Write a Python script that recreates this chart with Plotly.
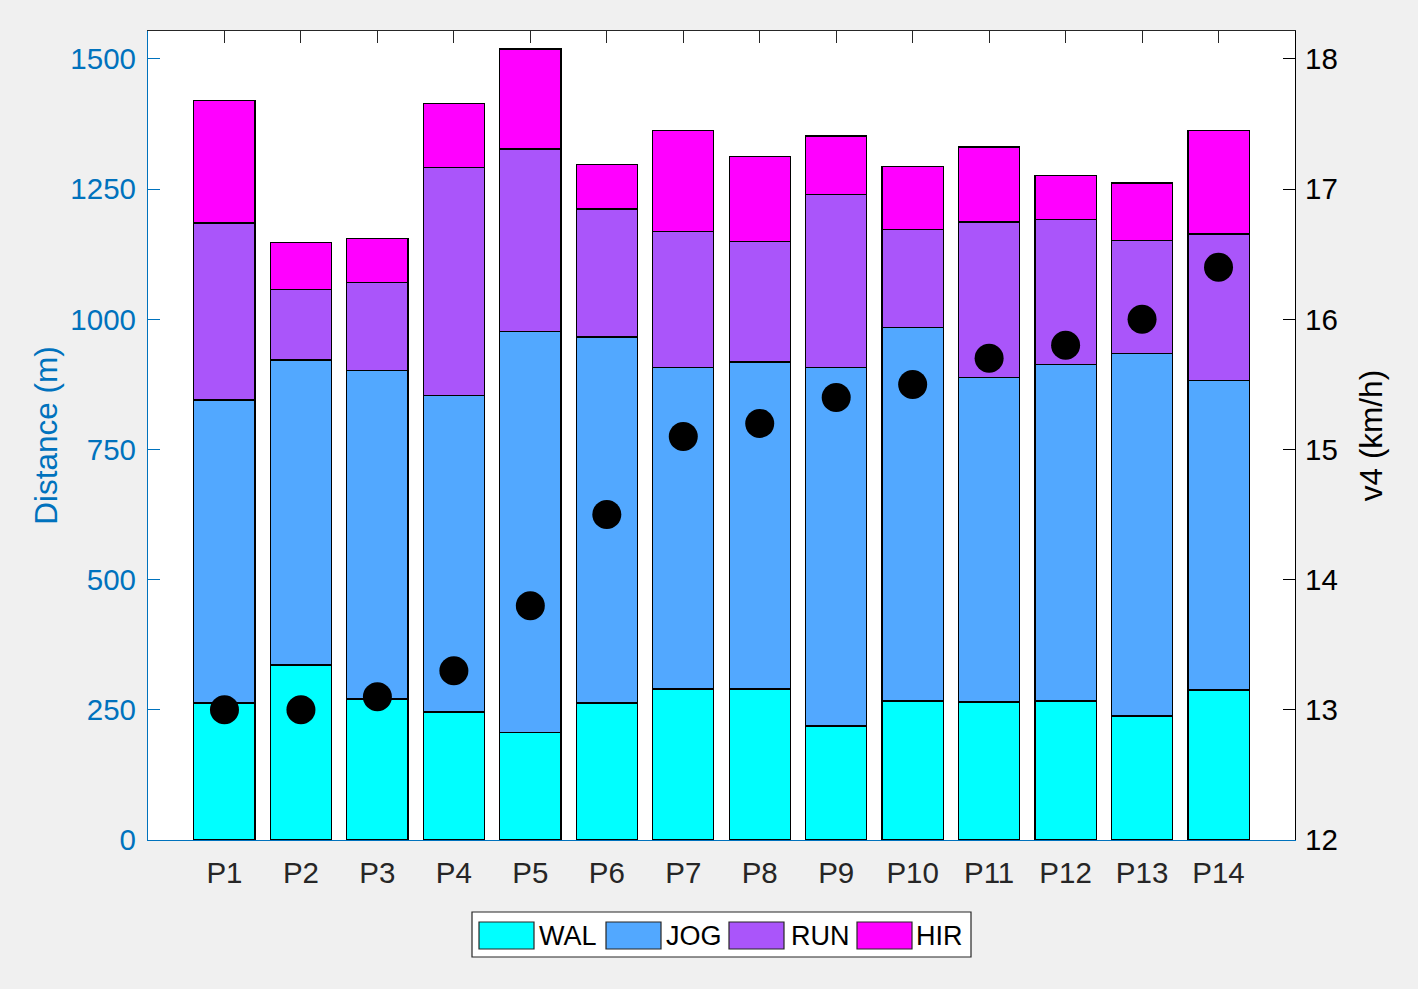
import plotly.graph_objects as go

categories = ["P1", "P2", "P3", "P4", "P5", "P6", "P7", "P8", "P9", "P10", "P11", "P12", "P13", "P14"]
wal = [263, 336, 271, 246, 207, 263, 290, 290, 219, 267, 265, 267, 238, 288]
jog = [582, 586, 630, 607, 769, 703, 618, 628, 689, 718, 624, 647, 697, 594]
run = [340, 136, 169, 438, 351, 246, 260, 232, 331, 188, 298, 277, 217, 282]
hir = [236, 89, 86, 124, 192, 86, 194, 162, 113, 120, 144, 86, 110, 198]
v4 = [13.0, 13.0, 13.1, 13.3, 13.8, 14.5, 15.1, 15.2, 15.4, 15.5, 15.7, 15.8, 16.0, 16.4]

series_names = ["WAL", "JOG", "RUN", "HIR"]
series_values = [wal, jog, run, hir]
series_colors = ["#00FFFF", "#52A8FF", "#AA55FA", "#FF00FF"]

xpos = list(range(1, len(categories) + 1))
FONT = "Liberation Sans, Arial, Helvetica, sans-serif"
BLUE = "#0072BD"
DARK = "#262626"

W, H = 1418, 989
L, R, T, B = 148, 123, 31, 149
PW, PH = W - L - R, H - T - B


def px_x(p):
    return (p - L) / PW


def px_y(p):
    return (H - B - p) / PH


fig = go.Figure()
for name, vals, col in zip(series_names, series_values, series_colors):
    fig.add_trace(go.Bar(
        x=xpos, y=vals, name=name, width=0.8,
        marker=dict(color=col, line=dict(color="black", width=1.2)),
        xaxis="x", yaxis="y", showlegend=False,
    ))

fig.add_trace(go.Scatter(
    x=xpos, y=v4, mode="markers", name="v4",
    marker=dict(color="black", size=29),
    xaxis="x", yaxis="y2", showlegend=False,
))

# invisible trace to activate top axis
fig.add_trace(go.Scatter(
    x=[xpos[0]], y=[0], mode="markers", marker=dict(opacity=0),
    xaxis="x2", yaxis="y", showlegend=False, hoverinfo="skip",
))

# custom legend (MATLAB style)
legend_items = [(479, 540), (606, 667), (729, 792), (857, 917)]
shapes = [dict(type="rect", xref="paper", yref="paper",
               x0=px_x(472), x1=px_x(971), y0=px_y(957), y1=px_y(912),
               fillcolor="white", line=dict(color=DARK, width=1.2), layer="above")]
annotations = []
for (rx, tx), name, col in zip(legend_items, series_names, series_colors):
    shapes.append(dict(type="rect", xref="paper", yref="paper",
                       x0=px_x(rx), x1=px_x(rx + 55), y0=px_y(949), y1=px_y(922),
                       fillcolor=col, line=dict(color=DARK, width=1.2), layer="above"))
    annotations.append(dict(xref="paper", yref="paper", x=px_x(tx - 3), y=px_y(935.5),
                            xanchor="left", yanchor="middle", text=name, showarrow=False,
                            font=dict(family=FONT, size=27, color="black")))

fig.update_layout(
    width=W, height=H,
    margin=dict(l=L, r=R, t=T, b=B),
    paper_bgcolor="#F0F0F0", plot_bgcolor="white",
    barmode="stack", bargap=0.2,
    font=dict(family=FONT, size=29, color=DARK),
    shapes=shapes, annotations=annotations,
    xaxis=dict(
        range=[0, 15], tickmode="array", tickvals=xpos, ticktext=categories,
        showline=True, linecolor=BLUE, linewidth=1.2, ticks="", showgrid=False,
        zeroline=False, tickfont=dict(family=FONT, size=29.5, color=DARK),
        ticklabelstandoff=6,
    ),
    xaxis2=dict(
        range=[0, 15], overlaying="x", side="top", anchor="y",
        tickmode="array", tickvals=xpos, showticklabels=False,
        showline=True, linecolor=DARK, linewidth=1.2,
        ticks="inside", ticklen=12, tickcolor=DARK, tickwidth=1.2,
        showgrid=False, zeroline=False,
    ),
    yaxis=dict(
        range=[0, 1553.75], tickmode="array", tickvals=[0, 250, 500, 750, 1000, 1250, 1500],
        showline=True, linecolor=BLUE, linewidth=1.2,
        ticks="inside", ticklen=12, tickcolor=BLUE, tickwidth=1.2,
        showgrid=False, zeroline=False,
        tickfont=dict(family=FONT, size=29.5, color=BLUE),
        ticklabelstandoff=5,
        title=dict(text="Distance (m)", font=dict(family=FONT, size=31.5, color=BLUE), standoff=3),
    ),
    yaxis2=dict(
        range=[12, 18.215], overlaying="y", side="right", anchor="x",
        tickmode="array", tickvals=[12, 13, 14, 15, 16, 17, 18],
        showline=True, linecolor="black", linewidth=1.2,
        ticks="inside", ticklen=12, tickcolor="black", tickwidth=1.2,
        showgrid=False, zeroline=False,
        tickfont=dict(family=FONT, size=29.5, color="black"),
        ticklabelstandoff=3,
        title=dict(text="v4 (km/h)", font=dict(family=FONT, size=31.5, color="black"), standoff=23),
    ),
)

fig.write_html(
    "out.html",
    config={"displayModeBar": False},
    post_script="document.body.style.margin='0';document.body.style.background='#F0F0F0';",
)
